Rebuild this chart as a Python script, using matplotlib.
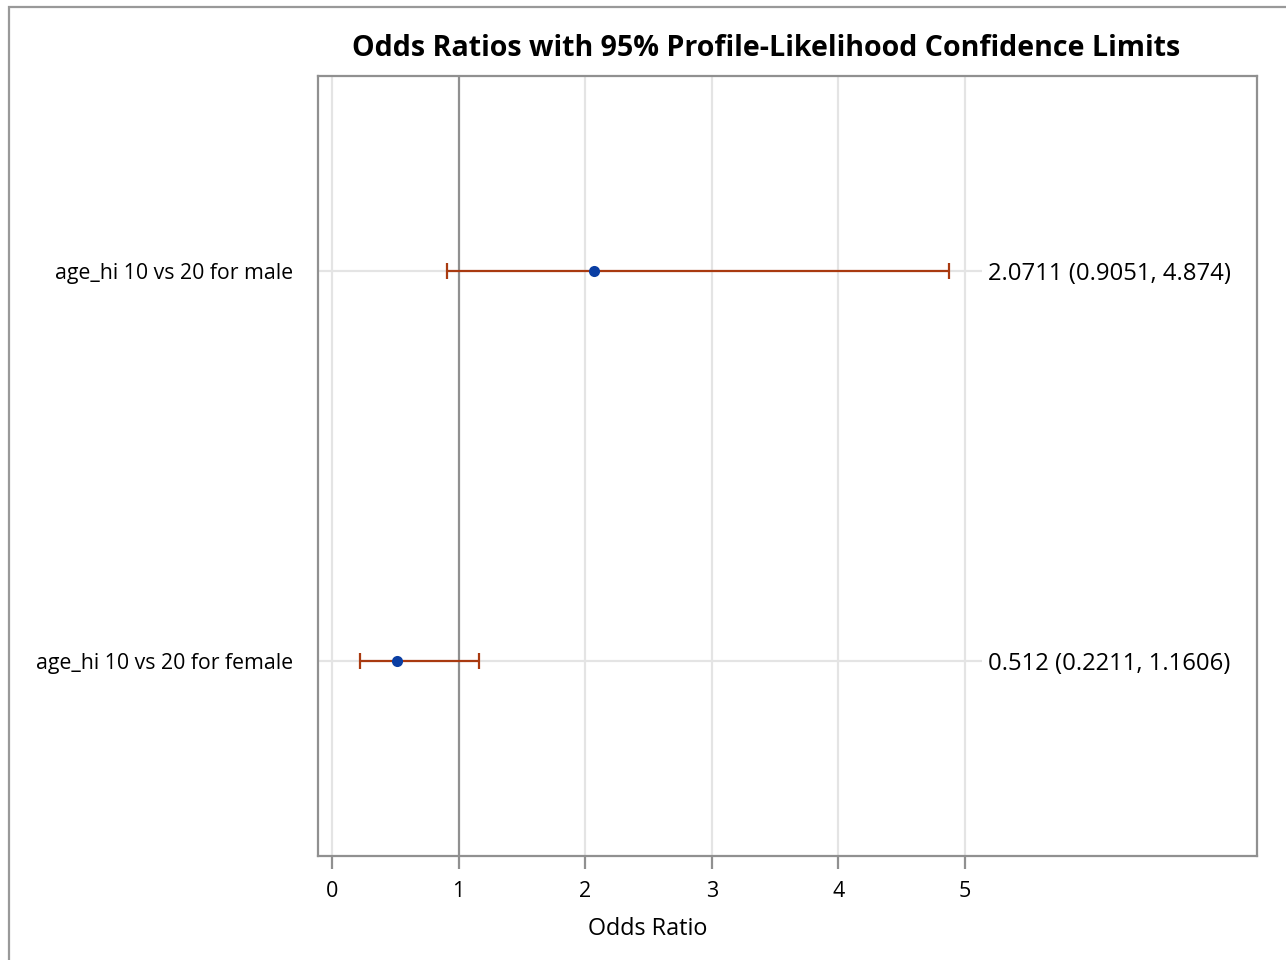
import matplotlib
matplotlib.use("Agg")
import matplotlib.pyplot as plt
from matplotlib.patches import Rectangle

plt.rcParams['font.family'] = ['Open Sans', 'DejaVu Sans']

labels = ["age_hi 10 vs 20 for male", "age_hi 10 vs 20 for female"]
odds = [2.0711, 0.512]
lower = [0.9051, 0.2211]
upper = [4.874, 1.1606]
xticks = [0, 1, 2, 3, 4, 5]

title = "Odds Ratios with 95% Profile-Likelihood Confidence Limits"
xlabel = "Odds Ratio"

W, H = 1286, 960
fig = plt.figure(figsize=(W / 100, H / 100), dpi=100)
ax = fig.add_axes([318 / W, 1 - 856 / H, (1257 - 318) / W, (856 - 76) / H])

x0, x1 = -0.1106, 7.306
ax.set_xlim(x0, x1)
ax.set_ylim(1.5, -0.5)

ypos = list(range(len(labels)))

# vertical grid lines
for t in xticks:
    if t == 1:
        continue
    ax.axvline(t, color="#e4e4e4", lw=1.6, zorder=0)
ax.axvline(1, color="#909090", lw=1.6, zorder=1)

# horizontal grid lines
ax.hlines(ypos, x0, 5.13, color="#e4e4e4", lw=1.6, zorder=0)

err = [[o - l for o, l in zip(odds, lower)], [u - o for o, u in zip(odds, upper)]]
ax.errorbar(odds, ypos, xerr=err, fmt="none", ecolor="#a93a10", elinewidth=1.6,
            capsize=6, capthick=1.6, zorder=3)
ax.plot(odds, ypos, "o", color="#0a3ea3", markersize=8, zorder=4, markeredgewidth=0)

for y, o, l, u in zip(ypos, odds, lower, upper):
    ax.annotate(f"{o:g} ({l:g}, {u:g})", (5.18, y), xytext=(0, -3),
                textcoords="offset pixels", ha="left", va="center", fontsize=17.2,
                color="black")

ax.set_xticks(xticks)
ax.set_xticklabels([str(t) for t in xticks], fontsize=15.5)
ax.set_yticks(ypos)
ax.set_yticklabels(labels, fontsize=15.3)
ax.tick_params(axis="y", length=0, pad=18)
ax.tick_params(axis="x", length=9, width=1.6, color="#909090", pad=9)

for s in ax.spines.values():
    s.set_color("#909090")
    s.set_linewidth(1.6)

fig.text(648 / W, 1 - 929 / H, xlabel, ha="center", va="center", fontsize=16.8)
fig.text(766 / W, 1 - 49 / H, title, ha="center", va="center", fontsize=20.6,
         fontweight="bold")

fig.patches.append(Rectangle((9 / W, -0.1), 1.2, 1 - 7 / H + 0.1, transform=fig.transFigure,
                             fill=False, edgecolor="#999999", lw=1.6))

fig.savefig("out.png", dpi=100)
